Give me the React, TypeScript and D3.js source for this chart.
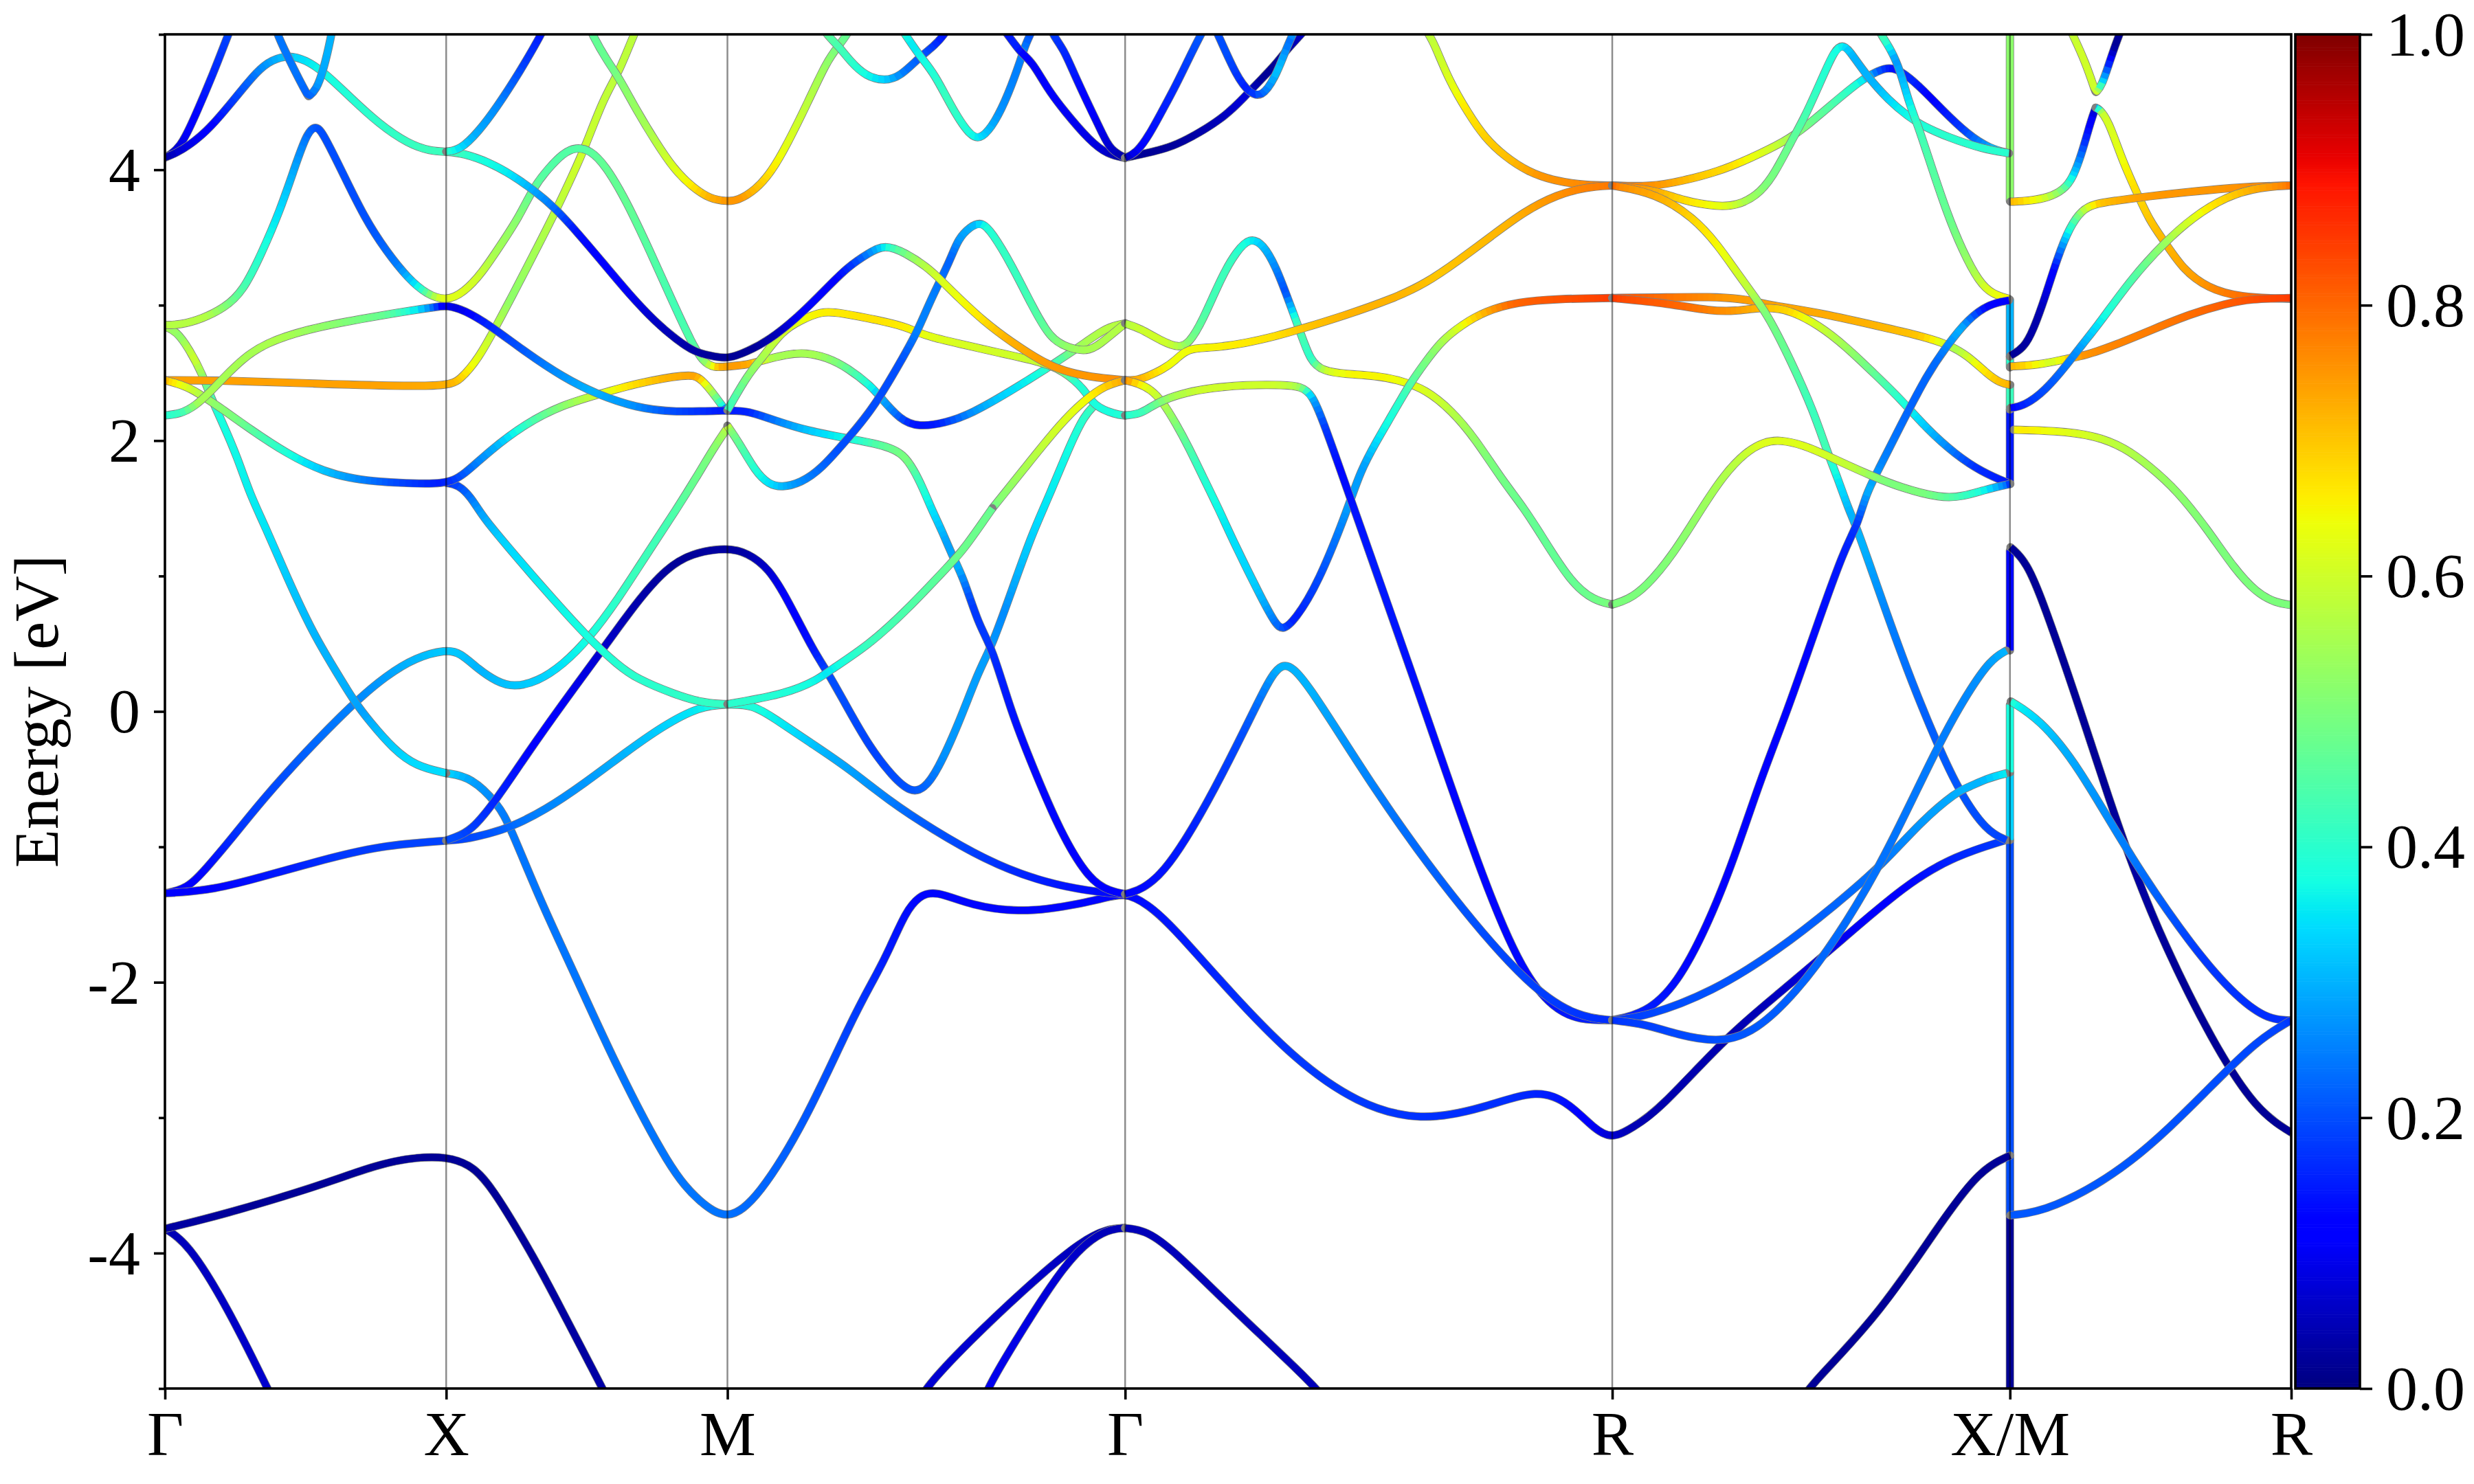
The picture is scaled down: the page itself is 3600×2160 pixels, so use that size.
import { useEffect, useRef } from 'react';
import * as d3 from 'd3';

type Pt = [number, number, number]; // k-distance, energy [eV], weight

const kPoints = [0, 1, 2, 3.414, 5.146, 6.56, 7.56];
const kLabels = ['Γ', 'X', 'M', 'Γ', 'R', 'X/M', 'R'];
const energyTicks = [-4, -2, 0, 2, 4];
const energyMinorTicks = [-5, -3, -1, 1, 3, 5];
const weightTicks = [0, 0.2, 0.4, 0.6, 0.8, 1];

// Jumps on the X/M line
const jumps: Pt[][] = [
  [[6.56, -5.1, 0.02], [6.56, -3.3, 0.02]],
  [[6.56, -3.72, 0.2], [6.56, -0.95, 0.2]],
  [[6.56, -0.95, 0.33], [6.56, -0.45, 0.33]],
  [[6.56, -0.45, 0.38], [6.56, 0.05, 0.38]],
  [[6.56, 0.45, 0.13], [6.56, 1.19, 0.13]],
  [[6.56, 1.68, 0.15], [6.56, 2.23, 0.15]],
  [[6.56, 2.23, 0.42], [6.56, 2.41, 0.42]],
  [[6.56, 2.54, 0.4], [6.56, 2.62, 0.4]],
  [[6.56, 2.62, 0.3], [6.56, 3.04, 0.3]],
  [[6.56, 3.77, 0.52], [6.56, 5.1, 0.52]],
];

// Lowest bands
const low1: Pt[] = [[0, -3.82, 0.03], [0.08, -3.92, 0.05], [0.22, -4.39, 0.06], [0.365, -5, 0.07], [0.4, -5.15, 0.07]];
const low2: Pt[] = [[0, -3.82, 0.03], [0.2, -3.72, 0.03], [0.54, -3.51, 0.02], [0.76, -3.34, 0.02], [0.9, -3.29, 0.02], [1, -3.29, 0.02], [1.08, -3.34, 0.02], [1.155, -3.48, 0.02], [1.32, -4.06, 0.03], [1.403, -4.39, 0.03], [1.556, -5, 0.04], [1.59, -5.14, 0.04]];
const low3: Pt[] = [[2.67, -5.15, 0.07], [2.698, -5, 0.07], [2.894, -4.58, 0.07], [3.118, -4.15, 0.06], [3.26, -3.91, 0.05], [3.35, -3.82, 0.05], [3.414, -3.815, 0.05]];
const low4: Pt[] = [[2.9, -5.15, 0.1], [2.922, -5, 0.1], [3.062, -4.52, 0.09], [3.2, -4.08, 0.07], [3.3, -3.88, 0.05], [3.37, -3.82, 0.05], [3.414, -3.815, 0.05]];
const low5: Pt[] = [[3.414, -3.815, 0.05], [3.48, -3.83, 0.05], [3.567, -3.94, 0.05], [3.79, -4.4, 0.05], [4.1, -5, 0.05], [4.15, -5.15, 0.05]];
const low6: Pt[] = [[5.8, -5.15, 0.02], [5.838, -5, 0.02], [6.09, -4.47, 0.02], [6.315, -3.77, 0.02], [6.455, -3.38, 0.02], [6.56, -3.28, 0.02]];

// Γ-X-M, lower part
const midA: Pt[] = [[1, -0.456, 0.35], [1.088, -0.483, 0.33], [1.186, -0.687, 0.28], [1.226, -0.845, 0.25], [1.337, -1.41, 0.24], [1.455, -1.93, 0.24], [1.6, -2.6, 0.24], [1.8, -3.4, 0.24], [1.9, -3.62, 0.24], [2, -3.77, 0.24], [2.11, -3.59, 0.23], [2.277, -3.03, 0.22], [2.445, -2.26, 0.2], [2.53, -1.944, 0.17], [2.577, -1.75, 0.15], [2.634, -1.48, 0.14], [2.68, -1.366, 0.13], [2.736, -1.32, 0.13], [2.867, -1.434, 0.13], [3.036, -1.484, 0.13], [3.195, -1.445, 0.13], [3.33, -1.385, 0.13], [3.414, -1.335, 0.13], [3.49, -1.42, 0.14], [3.571, -1.56, 0.15], [3.79, -2.08, 0.17], [4.016, -2.57, 0.18], [4.24, -2.9, 0.18], [4.464, -3.03, 0.17], [4.688, -2.93, 0.17], [4.885, -2.78, 0.15], [4.997, -2.9, 0.12], [5.08, -3.08, 0.08], [5.146, -3.16, 0.05], [5.22, -3.07, 0.04], [5.31, -2.95, 0.04], [5.548, -2.41, 0.05], [5.74, -2.08, 0.09], [5.933, -1.74, 0.12], [6.193, -1.27, 0.16], [6.366, -1.065, 0.18], [6.547, -0.949, 0.19]];
const midB: Pt[] = [[0, -1.343, 0.11], [0.08, -1.31, 0.11], [0.146, -1.162, 0.12], [0.238, -0.936, 0.14], [0.342, -0.664, 0.18], [0.499, -0.3, 0.2], [0.67, 0.061, 0.24], [0.787, 0.265, 0.27], [0.892, 0.4, 0.3], [1, 0.457, 0.32], [1.049, 0.435, 0.32], [1.115, 0.31, 0.3], [1.18, 0.219, 0.31], [1.239, 0.179, 0.32], [1.324, 0.219, 0.33], [1.415, 0.344, 0.36], [1.507, 0.536, 0.39], [1.612, 0.831, 0.42], [1.716, 1.17, 0.43], [1.821, 1.5, 0.47], [1.887, 1.72, 0.5], [1.952, 1.948, 0.55], [2, 2.095, 0.62], [2, 2.095, 0.62]];
const midC: Pt[] = [[0, -1.343, 0.11], [0.172, -1.32, 0.12], [0.368, -1.208, 0.13], [0.565, -1.094, 0.15], [0.761, -0.992, 0.18], [1, -0.954, 0.19], [1.062, -0.947, 0.19], [1.154, -0.902, 0.2], [1.226, -0.857, 0.22], [1.35, -0.732, 0.25], [1.494, -0.528, 0.27], [1.638, -0.302, 0.3], [1.769, -0.109, 0.33], [1.9, 0.038, 0.36], [2, 0.054, 0.4], [2.09, 0.05, 0.38], [2.166, -0.05, 0.35], [2.297, -0.234, 0.3], [2.428, -0.415, 0.27], [2.577, -0.664, 0.22], [2.727, -0.868, 0.19], [2.914, -1.094, 0.16], [3.101, -1.25, 0.14], [3.288, -1.33, 0.13], [3.414, -1.35, 0.13]];
const midD: Pt[] = [[1, -0.954, 0.19], [1.023, -0.934, 0.2], [1.088, -0.89, 0.2], [1.186, -0.63, 0.18], [1.284, -0.324, 0.15], [1.415, 0.061, 0.12], [1.56, 0.468, 0.09], [1.677, 0.808, 0.05], [1.782, 1.057, 0.03], [1.874, 1.171, 0.02], [2, 1.21, 0.03], [2.073, 1.17, 0.03], [2.147, 1.057, 0.06], [2.213, 0.83, 0.11], [2.306, 0.446, 0.14], [2.357, 0.288, 0.2], [2.418, 0.06, 0.2], [2.503, -0.256, 0.19], [2.587, -0.482, 0.2], [2.652, -0.6, 0.21], [2.699, -0.573, 0.23], [2.746, -0.44, 0.27], [2.821, -0.098, 0.28], [2.895, 0.31, 0.28], [2.94, 0.48, 0.26], [3.008, 0.876, 0.32], [3.082, 1.306, 0.35], [3.138, 1.563, 0.37], [3.223, 1.993, 0.4], [3.27, 2.186, 0.42], [3.302, 2.254, 0.42]];
const midE: Pt[] = [[0, 2.842, 0.57], [0.041, 2.809, 0.55], [0.087, 2.673, 0.52], [0.133, 2.492, 0.6], [0.165, 2.31, 0.48], [0.205, 2.13, 0.38], [0.257, 1.88, 0.37], [0.303, 1.6, 0.36], [0.355, 1.374, 0.35], [0.434, 0.99, 0.32], [0.525, 0.582, 0.3], [0.604, 0.31, 0.3], [0.67, 0.083, 0.28], [0.728, -0.075, 0.32], [0.813, -0.279, 0.34], [0.892, -0.404, 0.34], [1, -0.456, 0.35]];
const midF: Pt[] = [[1, 1.688, 0.15], [1.042, 1.676, 0.17], [1.088, 1.585, 0.21], [1.128, 1.442, 0.27], [1.219, 1.216, 0.33], [1.35, 0.899, 0.36], [1.507, 0.536, 0.38], [1.612, 0.34, 0.4], [1.677, 0.242, 0.4], [1.808, 0.129, 0.41], [1.913, 0.061, 0.41], [2, 0.054, 0.4]];

// Γ-X-M, upper part
const upA: Pt[] = [[0, 2.446, 0.74], [0.172, 2.446, 0.74], [0.499, 2.424, 0.74], [1, 2.39, 0.74], [1.049, 2.446, 0.72], [1.115, 2.605, 0.64], [1.18, 2.854, 0.58], [1.232, 3.057, 0.52], [1.311, 3.375, 0.55], [1.389, 3.692, 0.58], [1.455, 3.986, 0.6], [1.494, 4.168, 0.59], [1.56, 4.53, 0.58], [1.612, 4.711, 0.58], [1.664, 4.983, 0.57], [1.69, 5.1, 0.57]];
const upB: Pt[] = [[0, 2.446, 0.74], [0.08, 2.401, 0.68], [0.139, 2.322, 0.6], [0.198, 2.242, 0.53], [0.303, 2.084, 0.5], [0.434, 1.903, 0.42], [0.565, 1.767, 0.34], [0.696, 1.706, 0.27], [0.826, 1.688, 0.2], [1, 1.675, 0.15], [1.062, 1.744, 0.22], [1.154, 1.925, 0.3], [1.284, 2.129, 0.45], [1.415, 2.265, 0.55], [1.546, 2.344, 0.65], [1.677, 2.424, 0.72], [1.86, 2.492, 0.74], [1.9, 2.47, 0.6], [1.939, 2.378, 0.38], [1.991, 2.23, 0.15]];
const upC: Pt[] = [[0, 2.186, 0.4], [0.054, 2.197, 0.4], [0.107, 2.254, 0.42], [0.159, 2.356, 0.55], [0.211, 2.469, 0.55], [0.277, 2.605, 0.55], [0.355, 2.718, 0.55], [0.499, 2.82, 0.56], [0.696, 2.899, 0.52], [0.892, 2.967, 0.47], [0.96, 2.985, 0.3], [1, 3, 0.11], [1.062, 2.967, 0.08], [1.154, 2.854, 0.15], [1.284, 2.65, 0.2], [1.415, 2.469, 0.26], [1.533, 2.344, 0.3], [1.677, 2.242, 0.27], [1.808, 2.208, 0.2], [2, 2.224, 0.15], [2.073, 2.22, 0.16], [2.166, 2.15, 0.25], [2.288, 2.07, 0.33], [2.428, 2.016, 0.38], [2.521, 1.98, 0.45], [2.577, 1.948, 0.48], [2.624, 1.9, 0.5], [2.662, 1.79, 0.43], [2.699, 1.63, 0.37], [2.727, 1.488, 0.33], [2.764, 1.329, 0.28], [2.797, 1.16, 0.3], [2.839, 0.99, 0.18], [2.895, 0.627, 0.18], [2.94, 0.48, 0.15], [3.008, 0, 0.13], [3.082, -0.39, 0.13], [3.185, -0.9, 0.12], [3.288, -1.25, 0.12], [3.363, -1.33, 0.13], [3.414, -1.348, 0.13]];
const upD: Pt[] = [[0, 2.854, 0.57], [0.054, 2.854, 0.57], [0.133, 2.9, 0.57], [0.211, 2.98, 0.57], [0.277, 3.1, 0.5], [0.342, 3.375, 0.43], [0.408, 3.692, 0.38], [0.46, 4.009, 0.33], [0.506, 4.281, 0.27], [0.539, 4.33, 0.22], [0.565, 4.258, 0.2], [0.63, 3.986, 0.2], [0.709, 3.647, 0.2], [0.787, 3.398, 0.21], [0.866, 3.194, 0.25], [0.931, 3.08, 0.38], [1, 3.03, 0.62], [1.062, 3.092, 0.62], [1.128, 3.239, 0.6], [1.193, 3.443, 0.55], [1.258, 3.647, 0.52], [1.311, 3.873, 0.47], [1.363, 4.009, 0.45], [1.415, 4.122, 0.45], [1.461, 4.168, 0.45], [1.513, 4.145, 0.46], [1.566, 4.032, 0.47], [1.638, 3.783, 0.47], [1.73, 3.375, 0.45], [1.808, 3.012, 0.43], [1.874, 2.718, 0.45], [1.913, 2.582, 0.52], [1.952, 2.537, 0.72], [2, 2.548, 0.75], [2.073, 2.56, 0.72], [2.12, 2.59, 0.55], [2.213, 2.639, 0.55], [2.278, 2.65, 0.55], [2.353, 2.616, 0.5], [2.428, 2.537, 0.42], [2.512, 2.4, 0.33], [2.54, 2.33, 0.25], [2.615, 2.15, 0.14], [2.68, 2.1, 0.15], [2.774, 2.13, 0.25], [2.867, 2.197, 0.33], [3.008, 2.367, 0.38], [3.138, 2.537, 0.45], [3.195, 2.616, 0.55], [3.27, 2.72, 0.57], [3.35, 2.84, 0.57], [3.414, 2.865, 0.57]];
const upE: Pt[] = [[2, 2.224, 0.42], [2.073, 2.49, 0.43], [2.12, 2.6, 0.52], [2.194, 2.81, 0.57], [2.26, 2.888, 0.62], [2.334, 2.956, 0.65], [2.4, 2.945, 0.66], [2.54, 2.888, 0.67], [2.634, 2.84, 0.66], [2.674, 2.8, 0.64], [2.727, 2.763, 0.62], [2.82, 2.718, 0.61], [2.961, 2.65, 0.6], [3.12, 2.58, 0.58], [3.195, 2.514, 0.4], [3.27, 2.38, 0.38], [3.302, 2.254, 0.38], [3.381, 2.192, 0.4], [3.414, 2.186, 0.4]];
const upF: Pt[] = [[2, 2.11, 0.62], [2, 2.11, 0.62], [2.04, 1.99, 0.52], [2.1, 1.77, 0.44], [2.147, 1.676, 0.37], [2.194, 1.654, 0.33], [2.26, 1.687, 0.28], [2.334, 1.79, 0.24], [2.428, 2.016, 0.2], [2.521, 2.242, 0.2], [2.634, 2.65, 0.2], [2.674, 2.8, 0.25], [2.727, 3.06, 0.25], [2.792, 3.33, 0.22], [2.82, 3.49, 0.28], [2.863, 3.58, 0.3], [2.904, 3.62, 0.38], [2.942, 3.533, 0.41], [3.008, 3.307, 0.42], [3.082, 3, 0.46], [3.148, 2.75, 0.52], [3.213, 2.684, 0.55], [3.288, 2.65, 0.56], [3.353, 2.763, 0.57], [3.414, 2.865, 0.57]];
const upG: Pt[] = [[0, 4.09, 0.03], [0.054, 4.156, 0.06], [0.107, 4.394, 0.12], [0.172, 4.711, 0.17], [0.224, 4.994, 0.2], [0.245, 5.1, 0.2]];
const upH: Pt[] = [[0, 4.09, 0.03], [0.054, 4.134, 0.04], [0.146, 4.27, 0.08], [0.25, 4.53, 0.12], [0.329, 4.734, 0.2], [0.381, 4.813, 0.26], [0.44, 4.847, 0.3], [0.499, 4.813, 0.33], [0.565, 4.723, 0.36], [0.656, 4.541, 0.38], [0.761, 4.338, 0.4], [0.866, 4.19, 0.41], [0.944, 4.138, 0.42], [1, 4.134, 0.42], [1.062, 4.122, 0.42], [1.154, 4.054, 0.38], [1.232, 3.964, 0.36], [1.311, 3.85, 0.3], [1.389, 3.715, 0.24], [1.468, 3.533, 0.14], [1.56, 3.307, 0.12], [1.651, 3.08, 0.1], [1.743, 2.877, 0.06], [1.821, 2.741, 0.04], [1.887, 2.65, 0.03], [1.939, 2.628, 0.02], [2, 2.6, 0.02], [2.073, 2.66, 0.02], [2.147, 2.74, 0.05], [2.25, 2.91, 0.13], [2.353, 3.126, 0.12], [2.428, 3.284, 0.2], [2.503, 3.386, 0.3], [2.559, 3.45, 0.45], [2.634, 3.386, 0.55], [2.708, 3.284, 0.6], [2.755, 3.194, 0.63], [2.82, 3.058, 0.66], [2.914, 2.876, 0.72], [3.008, 2.73, 0.74], [3.12, 2.58, 0.75], [3.195, 2.514, 0.75], [3.288, 2.469, 0.76], [3.414, 2.446, 0.76]];
const upI: Pt[] = [[0.385, 5.1, 0.24], [0.401, 4.994, 0.24], [0.434, 4.847, 0.24], [0.48, 4.655, 0.24], [0.51, 4.541, 0.22], [0.51, 4.541, 0.22], [0.538, 4.587, 0.28], [0.565, 4.745, 0.3], [0.591, 4.983, 0.3], [0.6, 5.1, 0.3]];
const upJ: Pt[] = [[1, 4.134, 0.42], [1.049, 4.145, 0.38], [1.115, 4.281, 0.3], [1.18, 4.462, 0.26], [1.258, 4.711, 0.18], [1.337, 4.994, 0.13], [1.36, 5.1, 0.13]];
const upK: Pt[] = [[1.5, 5.1, 0.45], [1.52, 4.994, 0.45], [1.573, 4.802, 0.47], [1.612, 4.689, 0.48], [1.677, 4.439, 0.52], [1.743, 4.213, 0.55], [1.808, 4.009, 0.6], [1.874, 3.873, 0.65], [1.939, 3.783, 0.72], [2, 3.767, 0.75], [2.035, 3.771, 0.75], [2.1, 3.85, 0.7], [2.157, 3.986, 0.65], [2.213, 4.19, 0.6], [2.288, 4.507, 0.55], [2.353, 4.8, 0.5], [2.395, 4.915, 0.47], [2.428, 5.006, 0.5], [2.45, 5.1, 0.5]];
const upL: Pt[] = [[2.33, 5.1, 0.5], [2.348, 5.006, 0.5], [2.395, 4.915, 0.45], [2.437, 4.8, 0.42], [2.493, 4.689, 0.38], [2.559, 4.655, 0.33], [2.615, 4.689, 0.24], [2.685, 4.836, 0.2], [2.736, 4.915, 0.15], [2.774, 5.005, 0.13], [2.8, 5.1, 0.13]];
const upM: Pt[] = [[2.6, 5.1, 0.43], [2.634, 4.994, 0.43], [2.685, 4.836, 0.35], [2.736, 4.711, 0.38], [2.802, 4.44, 0.42], [2.867, 4.236, 0.38], [2.905, 4.231, 0.33], [2.951, 4.349, 0.27], [2.998, 4.553, 0.25], [3.045, 4.824, 0.25], [3.059, 4.926, 0.18], [3.1, 5.1, 0.22]];
const upN: Pt[] = [[2.96, 5.1, 0.13], [2.998, 4.994, 0.13], [3.045, 4.858, 0.16], [3.082, 4.802, 0.1], [3.138, 4.598, 0.11], [3.195, 4.44, 0.1], [3.288, 4.213, 0.08], [3.353, 4.111, 0.03], [3.414, 4.088, 0.02]];
const upO: Pt[] = [[3.14, 5.1, 0.2], [3.157, 4.994, 0.2], [3.195, 4.892, 0.17], [3.232, 4.711, 0.15], [3.288, 4.462, 0.11], [3.335, 4.258, 0.08], [3.363, 4.145, 0.04], [3.414, 4.088, 0.02]];
const upP: Pt[] = [[2.942, 1.5, 0.47], [3.054, 1.79, 0.52], [3.185, 2.13, 0.6], [3.27, 2.3, 0.65], [3.344, 2.41, 0.72], [3.414, 2.446, 0.75]];
const upQ: Pt[] = [[2, 0.054, 0.4], [2.213, 0.13, 0.4], [2.325, 0.24, 0.38], [2.353, 0.288, 0.35], [2.503, 0.491, 0.42], [2.634, 0.74, 0.45], [2.793, 1.09, 0.48], [2.839, 1.193, 0.48], [2.942, 1.5, 0.47]];

// Γ-R
const gA: Pt[] = [[3.414, 4.088, 0.02], [3.489, 4.122, 0.02], [3.582, 4.168, 0.02], [3.676, 4.27, 0.03], [3.769, 4.394, 0.05], [3.84, 4.541, 0.08], [3.886, 4.643, 0.02], [3.945, 4.768, 0.02], [3.991, 4.892, 0.05], [4.038, 4.994, 0.08], [4.08, 5.1, 0.08]];
const gB: Pt[] = [[3.414, 4.088, 0.02], [3.454, 4.122, 0.07], [3.5, 4.258, 0.13], [3.547, 4.44, 0.15], [3.594, 4.621, 0.17], [3.641, 4.824, 0.2], [3.682, 4.994, 0.22], [3.71, 5.1, 0.22]];
const gC: Pt[] = [[3.72, 5.1, 0.2], [3.746, 4.994, 0.2], [3.81, 4.689, 0.2], [3.857, 4.564, 0.15], [3.898, 4.535, 0.22], [3.945, 4.666, 0.32], [3.991, 4.915, 0.22], [4.009, 4.994, 0.38], [4.03, 5.1, 0.38]];
const gD: Pt[] = [[4.47, 5.1, 0.57], [4.494, 4.994, 0.57], [4.512, 4.938, 0.58], [4.564, 4.666, 0.6], [4.634, 4.417, 0.66], [4.693, 4.236, 0.69], [4.763, 4.1, 0.71], [4.845, 3.986, 0.75], [4.938, 3.918, 0.76], [5.055, 3.884, 0.78], [5.146, 3.884, 0.8]];
const gE: Pt[] = [[3.414, 2.865, 0.57], [3.466, 2.831, 0.57], [3.547, 2.73, 0.6], [3.606, 2.684, 0.6], [3.641, 2.718, 0.55], [3.688, 2.877, 0.48], [3.758, 3.216, 0.43], [3.81, 3.398, 0.42], [3.857, 3.5, 0.38], [3.904, 3.454, 0.33], [3.95, 3.284, 0.27], [3.991, 3.058, 0.2], [4.032, 2.831, 0.45], [4.073, 2.582, 0.4], [4.12, 2.514, 0.6], [4.19, 2.492, 0.65], [4.307, 2.48, 0.65], [4.389, 2.446, 0.63], [4.482, 2.38, 0.6], [4.576, 2.22, 0.55], [4.658, 2.016, 0.5], [4.751, 1.72, 0.48], [4.833, 1.5, 0.47], [4.9, 1.28, 0.47], [5, 0.95, 0.48], [5.08, 0.82, 0.5], [5.146, 0.79, 0.5]];
const gF: Pt[] = [[3.414, 2.446, 0.75], [3.46, 2.446, 0.74], [3.5, 2.48, 0.72], [3.547, 2.525, 0.68], [3.594, 2.593, 0.64], [3.635, 2.684, 0.64], [3.723, 2.684, 0.65], [3.84, 2.718, 0.66], [3.956, 2.775, 0.67], [4.032, 2.82, 0.7], [4.19, 2.92, 0.72], [4.365, 3.047, 0.72], [4.482, 3.16, 0.7], [4.6, 3.33, 0.71], [4.716, 3.51, 0.72], [4.833, 3.692, 0.75], [4.95, 3.817, 0.77], [5.055, 3.873, 0.78], [5.146, 3.884, 0.8]];
const gG: Pt[] = [[3.414, 2.446, 0.75], [3.46, 2.424, 0.75], [3.506, 2.378, 0.65], [3.547, 2.288, 0.6], [3.594, 2.129, 0.55], [3.641, 1.948, 0.48], [3.688, 1.744, 0.42], [3.746, 1.5, 0.38], [3.8, 1.25, 0.35], [3.9, 0.83, 0.33], [3.95, 0.64, 0.25], [3.975, 0.6, 0.2], [4.016, 0.67, 0.15], [4.1, 0.94, 0.2], [4.21, 1.52, 0.28], [4.249, 1.767, 0.28], [4.307, 1.993, 0.36], [4.365, 2.197, 0.4], [4.424, 2.412, 0.47], [4.482, 2.582, 0.52], [4.541, 2.741, 0.6], [4.611, 2.854, 0.7], [4.693, 2.956, 0.8], [4.81, 3.024, 0.82], [4.95, 3.047, 0.84], [5.146, 3.053, 0.85]];
const gH: Pt[] = [[3.414, 2.186, 0.4], [3.466, 2.197, 0.4], [3.5, 2.242, 0.42], [3.547, 2.299, 0.47], [3.63, 2.356, 0.55], [3.723, 2.39, 0.6], [3.84, 2.412, 0.6], [3.98, 2.412, 0.6], [4.038, 2.4, 0.55], [4.079, 2.344, 0.3], [4.12, 2.13, 0.18], [4.167, 1.857, 0.13], [4.213, 1.585, 0.15], [4.46, 0.13, 0.13], [4.69, -1.27, 0.13], [4.83, -1.94, 0.14], [4.94, -2.2, 0.15], [5.03, -2.28, 0.16], [5.146, -2.28, 0.17]];
const gI: Pt[] = [[3.414, -1.35, 0.13], [3.54, -1.27, 0.13], [3.737, -0.57, 0.15], [3.9, 0.13, 0.2], [3.97, 0.4, 0.3], [4.05, 0.26, 0.3], [4.296, -0.57, 0.24], [4.577, -1.38, 0.2], [4.857, -2.05, 0.18], [5.026, -2.26, 0.17], [5.146, -2.28, 0.17]];

// R-X
const rA: Pt[] = [[5.146, 3.884, 0.8], [5.281, 3.873, 0.78], [5.397, 3.918, 0.75], [5.522, 3.986, 0.7], [5.629, 4.077, 0.67], [5.764, 4.213, 0.6], [5.832, 4.315, 0.5], [5.928, 4.485, 0.45], [6.025, 4.655, 0.38], [6.093, 4.734, 0.2], [6.131, 4.757, 0.13], [6.17, 4.734, 0.17], [6.237, 4.621, 0.12], [6.315, 4.451, 0.17], [6.411, 4.258, 0.27], [6.489, 4.156, 0.38], [6.556, 4.122, 0.4]];
const rB: Pt[] = [[5.146, 3.884, 0.8], [5.3, 3.851, 0.78], [5.397, 3.771, 0.72], [5.522, 3.726, 0.66], [5.59, 3.737, 0.62], [5.658, 3.805, 0.55], [5.716, 3.941, 0.5], [5.783, 4.213, 0.48], [5.832, 4.394, 0.44], [5.89, 4.666, 0.4], [5.938, 4.892, 0.38], [5.965, 4.92, 0.35], [5.986, 4.892, 0.3], [6.044, 4.711, 0.3], [6.131, 4.507, 0.36], [6.199, 4.394, 0.38], [6.247, 4.326, 0.4], [6.344, 4.236, 0.4], [6.46, 4.156, 0.4], [6.556, 4.122, 0.4]];
const rC: Pt[] = [[6.08, 5.1, 0.45], [6.102, 4.994, 0.45], [6.136, 4.892, 0.42], [6.17, 4.734, 0.27], [6.199, 4.507, 0.33], [6.233, 4.326, 0.42], [6.276, 4.054, 0.45], [6.334, 3.692, 0.48], [6.392, 3.398, 0.54], [6.45, 3.171, 0.62], [6.498, 3.08, 0.65], [6.556, 3.047, 0.65]];
const rD: Pt[] = [[5.146, 3.053, 0.85], [5.349, 3.058, 0.82], [5.493, 3.062, 0.78], [5.609, 3.047, 0.75], [5.658, 3.024, 0.74], [5.706, 3.001, 0.74], [5.88, 2.945, 0.73], [6.073, 2.854, 0.72], [6.218, 2.786, 0.7], [6.334, 2.718, 0.55], [6.411, 2.627, 0.65], [6.479, 2.492, 0.7], [6.527, 2.424, 0.72], [6.561, 2.412, 0.73]];
const rE: Pt[] = [[5.146, 3.053, 0.85], [5.349, 3.013, 0.83], [5.493, 2.956, 0.8], [5.59, 2.956, 0.76], [5.658, 2.98, 0.73], [5.725, 2.98, 0.7], [5.783, 2.956, 0.68], [5.88, 2.854, 0.6], [5.977, 2.695, 0.53], [6.073, 2.503, 0.45], [6.17, 2.31, 0.36], [6.266, 2.084, 0.27], [6.363, 1.903, 0.17], [6.46, 1.767, 0.15], [6.561, 1.68, 0.14]];
const rF: Pt[] = [[5.146, 3.884, 0.8], [5.3, 3.828, 0.76], [5.436, 3.647, 0.72], [5.522, 3.443, 0.67], [5.59, 3.239, 0.63], [5.658, 3.047, 0.58], [5.706, 2.899, 0.5], [5.783, 2.582, 0.47], [5.861, 2.22, 0.42], [5.909, 1.925, 0.43], [5.948, 1.72, 0.35], [5.985, 1.5, 0.3], [6.015, 1.36, 0.3], [6.083, 0.954, 0.25], [6.193, 0.307, 0.22], [6.303, -0.25, 0.21], [6.382, -0.6, 0.2], [6.476, -0.884, 0.19], [6.547, -0.95, 0.19]];
const rG: Pt[] = [[5.146, -2.28, 0.17], [5.264, -2.23, 0.16], [5.375, -2.02, 0.15], [5.485, -1.58, 0.13], [5.579, -1.09, 0.12], [5.674, -0.496, 0.12], [5.768, 0, 0.12], [5.862, 0.566, 0.13], [5.973, 1.213, 0.15], [6.015, 1.36, 0.18], [6.049, 1.608, 0.3], [6.088, 1.767, 0.25], [6.17, 2.106, 0.22], [6.266, 2.49, 0.23], [6.334, 2.695, 0.3], [6.411, 2.9, 0.13], [6.489, 3.012, 0.12], [6.556, 3.035, 0.11]];
const rH: Pt[] = [[5.146, -2.28, 0.17], [5.264, -2.256, 0.18], [5.5, -2.075, 0.2], [5.736, -1.764, 0.21], [5.941, -1.428, 0.22], [6.114, -1.117, 0.24], [6.24, -0.82, 0.28], [6.374, -0.587, 0.3], [6.413, -0.56, 0.3], [6.476, -0.496, 0.35], [6.547, -0.457, 0.36]];
const rI: Pt[] = [[5.146, -2.28, 0.17], [5.264, -2.308, 0.18], [5.375, -2.386, 0.19], [5.532, -2.45, 0.2], [5.658, -2.36, 0.21], [5.8, -2.075, 0.22], [5.941, -1.687, 0.23], [6.114, -1.09, 0.24], [6.303, -0.25, 0.25], [6.413, 0.15, 0.27], [6.492, 0.384, 0.3], [6.547, 0.449, 0.3]];
const rJ: Pt[] = [[5.146, 0.79, 0.5], [5.201, 0.824, 0.5], [5.264, 0.915, 0.5], [5.359, 1.148, 0.5], [5.464, 1.5, 0.52], [5.542, 1.744, 0.55], [5.619, 1.914, 0.58], [5.687, 1.993, 0.62], [5.745, 2.005, 0.62], [5.822, 1.97, 0.62], [5.909, 1.891, 0.6], [5.977, 1.824, 0.58], [6.064, 1.744, 0.5], [6.17, 1.653, 0.5], [6.315, 1.574, 0.44], [6.392, 1.586, 0.38], [6.479, 1.642, 0.24], [6.561, 1.68, 0.14]];

// M-R
const mA: Pt[] = [[6.562, 1.213, 0.02], [6.618, 1.109, 0.02], [6.68, 0.8, 0.02], [6.8, 0.074, 0.02], [6.917, -0.677, 0.02], [6.996, -1.143, 0.03], [7.106, -1.712, 0.02], [7.279, -2.437, 0.02], [7.437, -2.95, 0.02], [7.56, -3.11, 0.02]];
const mB: Pt[] = [[6.563, 0.074, 0.4], [6.665, -0.056, 0.36], [6.8, -0.39, 0.3], [6.988, -1.078, 0.25], [7.216, -1.764, 0.18], [7.373, -2.127, 0.17], [7.483, -2.28, 0.17], [7.56, -2.28, 0.17]];
const mC: Pt[] = [[6.562, -3.72, 0.21], [6.7, -3.69, 0.21], [6.99, -3.36, 0.21], [7.27, -2.78, 0.2], [7.437, -2.43, 0.19], [7.56, -2.28, 0.17]];
const mD: Pt[] = [[6.562, 3.764, 0.72], [6.631, 3.771, 0.7], [6.696, 3.794, 0.62], [6.751, 3.851, 0.5], [6.784, 3.941, 0.33], [6.816, 4.122, 0.16], [6.849, 4.371, 0.07], [6.865, 4.458, 0.03]];
const mE: Pt[] = [[6.865, 4.458, 0.3], [6.876, 4.451, 0.3], [6.909, 4.371, 0.6], [6.958, 4.077, 0.62], [7.007, 3.85, 0.67], [7.056, 3.624, 0.7], [7.111, 3.466, 0.72], [7.176, 3.262, 0.74], [7.264, 3.126, 0.78], [7.373, 3.058, 0.82], [7.56, 3.047, 0.85]];
const mF: Pt[] = [[6.76, 5.1, 0.57], [6.784, 4.994, 0.57], [6.827, 4.802, 0.6], [6.865, 4.571, 0.6], [6.865, 4.571, 0.6], [6.887, 4.62, 0.3], [6.915, 4.802, 0.02], [6.947, 4.994, 0.02], [6.97, 5.1, 0.02]];
const mG: Pt[] = [[6.562, 2.627, 0.02], [6.609, 2.684, 0.02], [6.642, 2.809, 0.03], [6.685, 3.058, 0.04], [6.729, 3.352, 0.12], [6.773, 3.58, 0.36], [6.816, 3.703, 0.55], [6.86, 3.749, 0.7], [6.936, 3.771, 0.73], [7.013, 3.794, 0.75], [7.155, 3.828, 0.75], [7.373, 3.873, 0.77], [7.56, 3.884, 0.8]];
const mH: Pt[] = [[6.562, 2.548, 0.72], [6.664, 2.559, 0.7], [6.762, 2.605, 0.6], [6.827, 2.627, 0.75], [6.936, 2.707, 0.77], [7.067, 2.82, 0.78], [7.198, 2.933, 0.8], [7.329, 3.012, 0.82], [7.416, 3.047, 0.84], [7.56, 3.053, 0.85]];
const mI: Pt[] = [[6.562, 2.242, 0.13], [6.609, 2.254, 0.13], [6.685, 2.367, 0.18], [6.762, 2.559, 0.22], [6.816, 2.707, 0.27], [6.882, 2.877, 0.36], [6.991, 3.194, 0.45], [7.111, 3.466, 0.56], [7.209, 3.647, 0.66], [7.329, 3.805, 0.72], [7.449, 3.873, 0.77], [7.56, 3.884, 0.8]];
const mJ: Pt[] = [[6.574, 2.08, 0.65], [6.718, 2.073, 0.66], [6.86, 2.04, 0.62], [6.969, 1.948, 0.58], [7.056, 1.812, 0.55], [7.155, 1.63, 0.52], [7.263, 1.342, 0.5], [7.357, 1.057, 0.5], [7.436, 0.876, 0.5], [7.507, 0.8, 0.5], [7.56, 0.786, 0.5]];

const bands: Pt[][] = [
  ...jumps,
  low1, low2, low3, low4, low5, low6,
  midA, midB, midC, midD, midE, midF,
  upA, upB, upC, upD, upE, upF, upG, upH, upI, upJ, upK, upL, upM, upN, upO, upP, upQ,
  gA, gB, gC, gD, gE, gF, gG, gH, gI,
  rA, rB, rC, rD, rE, rF, rG, rH, rI, rJ,
  mA, mB, mC, mD, mE, mF, mG, mH, mI, mJ,
];

const FONT = '"Liberation Serif", "Times New Roman", serif';
const FONT_SIZE = 92;

// matplotlib's jet
const jetR = d3.scaleLinear<number>().domain([0, 0.35, 0.66, 0.89, 1]).range([0, 0, 1, 1, 0.5]).clamp(true);
const jetG = d3.scaleLinear<number>().domain([0, 0.125, 0.375, 0.64, 0.91, 1]).range([0, 0, 1, 1, 0, 0]).clamp(true);
const jetB = d3.scaleLinear<number>().domain([0, 0.11, 0.34, 0.65, 1]).range([0.5, 1, 1, 0, 0]).clamp(true);
const jet = (w: number) => d3.rgb(jetR(w) * 255, jetG(w) * 255, jetB(w) * 255).formatRgb();

// Flatten one band into short pieces that each carry their own weight
function flatten(pts: Pt[], x: (k: number) => number, y: (e: number) => number) {
  const segs: number[][] = [];
  let cx = 0;
  let cy = 0;
  const ctx = {
    moveTo(a: number, b: number) { cx = a; cy = b; },
    lineTo(a: number, b: number) { segs.push([cx, cy, cx, cy, a, b, a, b]); cx = a; cy = b; },
    bezierCurveTo(a: number, b: number, c: number, d: number, e: number, f: number) {
      segs.push([cx, cy, a, b, c, d, e, f]); cx = e; cy = f;
    },
    closePath() {},
  };
  d3.line<Pt>().x((d) => x(d[0])).y((d) => y(d[1])).curve(d3.curveBasis).context(ctx as any)(pts);

  const weightAt = (f: number) => {
    const pos = Math.min(f * (pts.length - 1), pts.length - 1);
    const i = Math.min(Math.floor(pos), pts.length - 2);
    return pts[i][2] + (pts[i + 1][2] - pts[i][2]) * (pos - i);
  };

  const out: { x: number; y: number; w: number }[] = [];
  segs.forEach((s, i) => {
    const len = Math.hypot(s[6] - s[0], s[7] - s[1]);
    const n = Math.max(1, Math.ceil(len / 9));
    for (let j = i === 0 ? 0 : 1; j <= n; j++) {
      const t = j / n;
      const u = 1 - t;
      out.push({
        x: u * u * u * s[0] + 3 * u * u * t * s[2] + 3 * u * t * t * s[4] + t * t * t * s[6],
        y: u * u * u * s[1] + 3 * u * u * t * s[3] + 3 * u * t * t * s[5] + t * t * t * s[7],
        w: weightAt((i + t) / segs.length),
      });
    }
  });
  return out;
}

export default function App() {
  const svgRef = useRef<SVGSVGElement>(null);

  useEffect(() => {
    if (!svgRef.current) return;
    const svg = d3.select(svgRef.current);
    svg.selectAll('*').remove();

    const left = 240;
    const right = 3334;
    const top = 50;
    const bottom = 2021;
    const x = d3.scaleLinear().domain([0, 7.56]).range([left, right]);
    const y = d3.scaleLinear().domain([-5, 5]).range([bottom, top]);

    svg.append('defs').append('clipPath').attr('id', 'plot-clip')
      .append('rect').attr('x', left).attr('y', top).attr('width', right - left).attr('height', bottom - top);

    const plot = svg.append('g').attr('clip-path', 'url(#plot-clip)');

    const grayLine = d3.line<Pt>().x((d) => x(d[0])).y((d) => y(d[1])).curve(d3.curveBasis);
    bands.forEach((band) => {
      plot.append('path')
        .attr('d', grayLine(band) as string)
        .attr('fill', 'none')
        .attr('stroke', '#808080')
        .attr('stroke-width', 12)
        .attr('stroke-linecap', 'round')
        .attr('stroke-linejoin', 'round');

      const flat = flatten(band, x, y);
      for (let i = 0; i < flat.length - 1; i++) {
        const a = flat[i];
        const b = flat[i + 1];
        const c = flat[Math.min(i + 2, flat.length - 1)];
        plot.append('path')
          .attr('d', `M${a.x},${a.y}L${b.x},${b.y}L${c.x},${c.y}`)
          .attr('fill', 'none')
          .attr('stroke', jet((a.w + b.w) / 2))
          .attr('stroke-width', 10)
          .attr('stroke-linejoin', 'round');
      }
    });

    // Vertical lines at the k-points, over the bands
    kPoints.slice(1, -1).forEach((k) => {
      plot.append('line')
        .attr('x1', x(k)).attr('x2', x(k))
        .attr('y1', top).attr('y2', bottom)
        .attr('stroke', '#000')
        .attr('stroke-opacity', 0.45)
        .attr('stroke-width', 2.5);
    });

    const styleAxis = (g: d3.Selection<SVGGElement, unknown, null, undefined>) => {
      g.select('.domain').remove();
      g.selectAll('line').attr('stroke', '#000').attr('stroke-width', 3.6);
      g.selectAll('text')
        .attr('fill', '#000')
        .attr('font-family', FONT)
        .attr('font-size', FONT_SIZE);
    };

    // x axis
    const xAxis = svg.append('g').attr('transform', `translate(0,${bottom})`);
    xAxis.call(
      d3.axisBottom(x).tickValues(kPoints).tickSize(16).tickSizeOuter(0)
        .tickFormat((_, i) => kLabels[i])
    );
    styleAxis(xAxis as any);
    xAxis.selectAll('text').attr('dy', 0).attr('y', 97);

    // y axis
    const yAxis = svg.append('g').attr('transform', `translate(${left},0)`);
    yAxis.call(d3.axisLeft(y).tickValues(energyTicks).tickSize(16).tickSizeOuter(0).tickPadding(20).tickFormat((d) => String(d)));
    styleAxis(yAxis as any);
    yAxis.selectAll('text').attr('dy', '0.33em');

    const yMinor = svg.append('g').attr('transform', `translate(${left},0)`);
    yMinor.call(d3.axisLeft(y).tickValues(energyMinorTicks).tickSize(9).tickSizeOuter(0).tickFormat(() => ''));
    styleAxis(yMinor as any);

    svg.append('text')
      .attr('transform', `translate(84,${y(0)}) rotate(-90)`)
      .attr('text-anchor', 'middle')
      .attr('font-family', FONT)
      .attr('font-size', FONT_SIZE)
      .text('Energy [eV]');

    // Frame
    svg.append('rect')
      .attr('x', left).attr('y', top)
      .attr('width', right - left).attr('height', bottom - top)
      .attr('fill', 'none')
      .attr('stroke', '#000')
      .attr('stroke-width', 3.6);

    // Colour bar
    const cbLeft = 3340;
    const cbRight = 3434;
    const cbY = d3.scaleLinear().domain([0, 1]).range([bottom, top]);
    const cbSteps = d3.range(0, 512);
    svg.append('g').selectAll('rect').data(cbSteps).join('rect')
      .attr('x', cbLeft)
      .attr('width', cbRight - cbLeft)
      .attr('y', (d) => cbY((d + 1) / 512))
      .attr('height', (bottom - top) / 512 + 0.6)
      .attr('fill', (d) => jet((d + 0.5) / 512));
    svg.append('rect')
      .attr('x', cbLeft).attr('y', top)
      .attr('width', cbRight - cbLeft).attr('height', bottom - top)
      .attr('fill', 'none')
      .attr('stroke', '#000')
      .attr('stroke-width', 3.6);

    const cbAxis = svg.append('g').attr('transform', `translate(${cbRight},0)`);
    cbAxis.call(d3.axisRight(cbY).tickValues(weightTicks).tickSize(18).tickSizeOuter(0).tickPadding(20).tickFormat(d3.format('.1f') as any));
    styleAxis(cbAxis as any);
    cbAxis.selectAll('text').attr('dy', '0.33em');
  }, []);

  return (
    <svg
      ref={svgRef}
      width={3600}
      height={2160}
      viewBox="0 0 3600 2160"
      style={{ position: 'absolute', left: 0, top: 0, background: '#fff' }}
    />
  );
}
